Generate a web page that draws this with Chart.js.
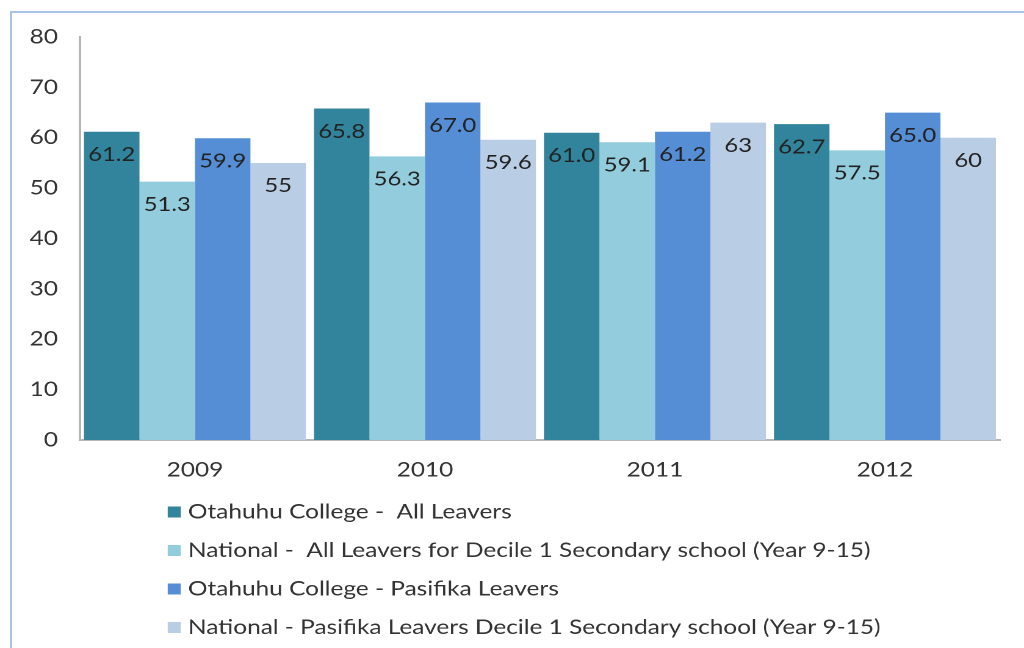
<!DOCTYPE html>
<html><head><meta charset="utf-8">
<script src="https://cdn.jsdelivr.net/npm/chart.js@4.4.1/dist/chart.umd.min.js"></script>
<style>
html,body{margin:0;padding:0;width:1024px;height:648px;overflow:hidden;background:#fff;}
#frame{position:absolute;left:10px;top:11px;width:1100px;height:700px;border:2px solid #a8c4e2;}
#wrap{position:absolute;left:0;top:0;width:839px;height:648px;transform:scaleX(1.2205);transform-origin:0 0;}
</style></head><body>
<div id="frame"></div>
<div id="wrap"><canvas id="c"></canvas></div>
<script>
const categories = ['2009', '2010', '2011', '2012'];
const seriesNames = [
  'Otahuhu College -  All Leavers',
  'National -  All Leavers for Decile 1 Secondary school (Year 9-15)',
  'Otahuhu College - Pasifika Leavers',
  'National - Pasifika Leavers Decile 1 Secondary school (Year 9-15)'
];
const otahuhuAll = [61.2, 65.8, 61.0, 62.7];
const nationalAll = [51.3, 56.3, 59.1, 57.5];
const otahuhuPasifika = [59.9, 67.0, 61.2, 65.0];
const nationalPasifika = [55, 59.6, 63, 60];
const yTicks = [0, 10, 20, 30, 40, 50, 60, 70, 80];
const labelDecimals = [1, 1, 1, null];
const colors = ['#31849b', '#93cddd', '#558ed5', '#b9cde5'];

const seriesValues = [otahuhuAll, nationalAll, otahuhuPasifika, nationalPasifika];
const FONT = 'Lato';
const TEXT = '#333333';

const valueLabels = {
  id: 'valueLabels',
  afterDatasetsDraw(chart) {
    const ctx = chart.ctx;
    ctx.save();
    ctx.font = '19.5px ' + FONT;
    ctx.fillStyle = '#222222';
    ctx.textAlign = 'center';
    ctx.textBaseline = 'middle';
    chart.data.datasets.forEach((ds, i) => {
      const meta = chart.getDatasetMeta(i);
      meta.data.forEach((bar, j) => {
        const v = ds.data[j];
        const d = labelDecimals[i];
        const txt = d === null ? String(v) : v.toFixed(d);
        ctx.fillText(txt, bar.x, bar.y + 23);
      });
    });
    ctx.restore();
  }
};

const sideLegend = {
  id: 'sideLegend',
  afterDraw(chart) {
    const ctx = chart.ctx;
    ctx.save();
    ctx.font = '20px ' + FONT;
    ctx.textAlign = 'left';
    ctx.textBaseline = 'middle';
    const rows = [512, 550.5, 589, 627.5];
    chart.data.datasets.forEach((ds, i) => {
      const y = rows[i];
      ctx.fillStyle = ds.backgroundColor;
      ctx.fillRect(137.4, y - 5.5, 10.7, 11);
      ctx.fillStyle = TEXT;
      ctx.fillText(ds.label, 154, y);
    });
    ctx.restore();
  }
};

new Chart(document.getElementById('c'), {
  type: 'bar',
  data: {
    labels: categories,
    datasets: seriesValues.map((vals, i) => ({
      label: seriesNames[i],
      data: vals,
      backgroundColor: colors[i],
      borderWidth: 0,
      categoryPercentage: 0.965,
      barPercentage: 1.0
    }))
  },
  options: {
    responsive: true,
    maintainAspectRatio: false,
    devicePixelRatio: 2,
    animation: false,
    layout: { padding: { left: 0, right: 19.7, top: 37, bottom: 168 } },
    plugins: { legend: { display: false }, tooltip: { enabled: false }, title: { display: false } },
    scales: {
      x: {
        grid: { display: false },
        border: { display: true, color: '#b5b5b5', width: 2 },
        ticks: { color: TEXT, font: { family: FONT, size: 20 }, padding: 10 },
        afterFit(s) { s.height = 40; }
      },
      y: {
        min: 0, max: 80,
        afterBuildTicks(s) { s.ticks = yTicks.map(v => ({ value: v })); },
        grid: { display: false },
        border: { display: true, color: '#b5b5b5', width: 2 },
        ticks: { color: TEXT, font: { family: FONT, size: 20 }, padding: 10 },
        afterFit(s) { s.width = 65.5; }
      }
    }
  },
  plugins: [valueLabels, sideLegend]
});
</script>
</body></html>
